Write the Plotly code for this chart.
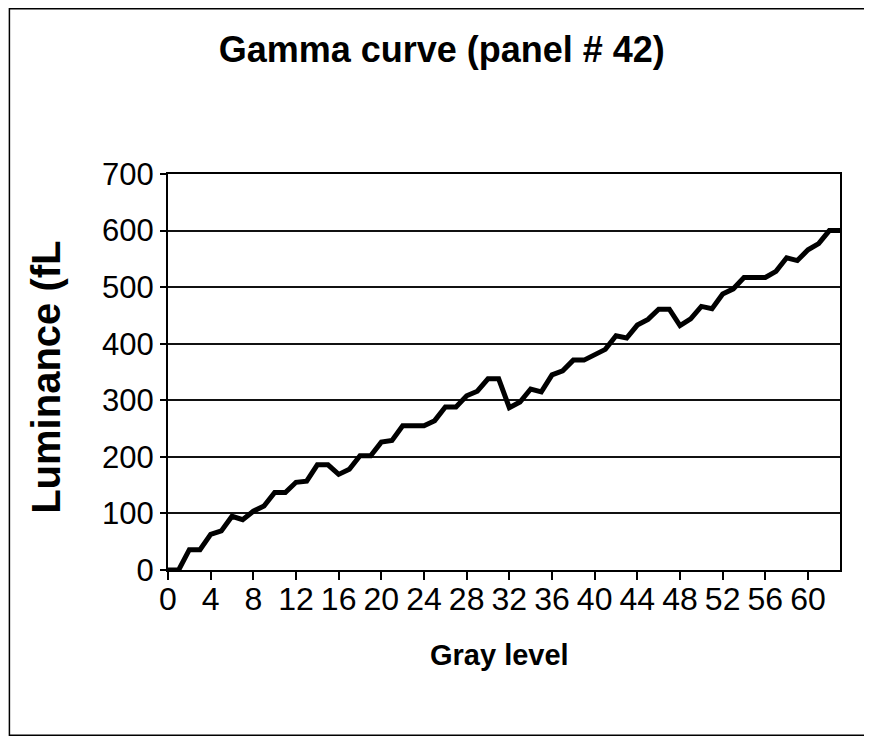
"""Gamma curve of panel 42: luminance against gray level."""

import plotly.graph_objects

# Data.
gray_levels = list(range(64))
luminance = [
    0, 0, 36, 36, 63, 69, 95, 89, 104, 113, 137, 137, 155, 157, 186, 186,
    169, 178, 202, 202, 226, 229, 255, 255, 255, 264, 288, 288, 308, 316,
    338, 338, 287, 297, 320, 315, 345, 352, 371, 371, 380, 390, 414, 410,
    433, 443, 461, 461, 432, 444, 466, 462, 488, 497, 517, 517, 517, 528,
    552, 547, 566, 577, 600, 600,
]
x_tick_values = list(range(0, 61, 4))
y_tick_values = list(range(0, 701, 100))

FONT = 'Liberation Sans, Arial, sans-serif'

fig = plotly.graph_objects.Figure()
fig.add_trace(
    plotly.graph_objects.Scatter(
        x=gray_levels,
        y=luminance,
        mode='lines',
        line=dict(color='black', width=5),
        showlegend=False))

fig.update_xaxes(
    range=[0, 63],
    tickvals=x_tick_values,
    ticks='outside',
    ticklen=8,
    tickwidth=1.5,
    tickcolor='black',
    ticklabelstandoff=-8,
    showgrid=False,
    zeroline=False,
    showline=True,
    linecolor='black',
    linewidth=2,
    mirror=True,
    tickfont=dict(family=FONT, size=32, color='black'))
fig.update_yaxes(
    range=[0, 700],
    tickvals=y_tick_values,
    ticks='outside',
    ticklen=6,
    tickwidth=1.5,
    tickcolor='black',
    showgrid=True,
    gridcolor='#111111',
    gridwidth=1.5,
    zeroline=False,
    showline=True,
    linecolor='black',
    linewidth=2,
    mirror=True,
    tickfont=dict(family=FONT, size=31, color='black'))

fig.add_annotation(
    text='Luminance (fL',
    xref='paper', yref='paper',
    x=-0.182, y=0.487,
    xanchor='center', yanchor='middle',
    textangle=-90,
    showarrow=False,
    font=dict(family=FONT, size=40, color='black', weight='bold'))
fig.add_annotation(
    text='Gray level',
    xref='paper', yref='paper',
    x=0.494, y=-0.215,
    xanchor='center', yanchor='middle',
    showarrow=False,
    font=dict(family=FONT, size=29, color='black', weight='bold'))

# outer chart border
fig.add_shape(
    type='rect',
    xref='paper', yref='paper',
    x0=-0.236, x1=1.040, y0=-0.417, y1=1.417,
    line=dict(color='black', width=1.5))

# the page body adds an 8px offset, so the figure is 8px smaller
fig.update_layout(
    width=864,
    height=735,
    margin=dict(l=160, r=32, t=166, b=173),
    paper_bgcolor='white',
    plot_bgcolor='white',
    title=dict(
        text='Gamma curve (panel # 42)',
        x=0.502, y=0.943,
        xanchor='center', yanchor='middle',
        font=dict(family=FONT, size=36, color='black', weight='bold')))

fig.write_html('out.html')
